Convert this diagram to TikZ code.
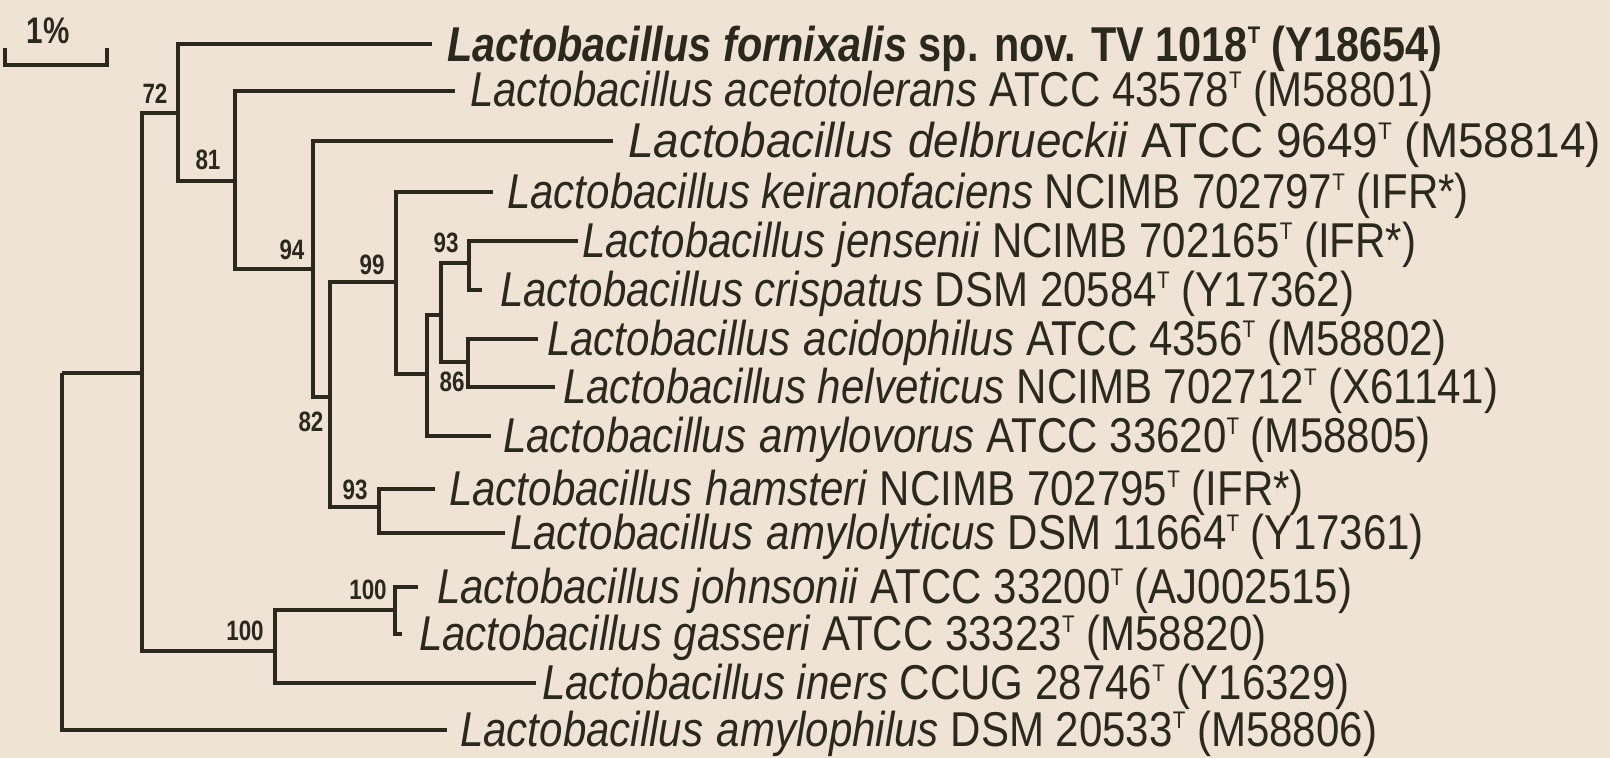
\documentclass[tikz,border=0pt]{standalone}
\usepackage{fontspec}
\usepackage{graphicx}
\setmainfont{Liberation Sans}[FakeStretch=0.86]
\newfontfamily\labfont{Liberation Sans}[FakeStretch=0.8]
\definecolor{bg}{HTML}{EFE3D5}
\definecolor{ink}{HTML}{2B281E}
\newcommand\Ts{\raisebox{18pt}{\fontsize{24}{24}\selectfont T}}
\newcommand\dsp{\hspace{0.28em}}
\newcommand\fitw[2]{\resizebox{#1}{\height}{#2}}
\begin{document}
\begin{tikzpicture}[x=1pt,y=-1pt,
  branch/.style={draw=ink, line width=4.3pt},
  sp/.style={anchor=base west, inner sep=0pt, text=ink, font=\fontsize{48.9}{50}\selectfont},
  boot/.style={inner sep=0pt, text=ink, font=\labfont\bfseries\fontsize{28}{28}\selectfont}]
\fill[bg] (0,0) rectangle (1610,758);
\useasboundingbox (0,0) rectangle (1610,758);
% scale bar
\coordinate (s1) at (5,48); \coordinate (s2) at (5,65);
\coordinate (s3) at (107,65); \coordinate (s4) at (107,48);
\draw[branch] (s1) -- (s2) -- (s3) -- (s4);
\node[boot, font=\labfont\bfseries\fontsize{37}{37}\selectfont] (pct) at (48,31) {1\%};
% internal nodes
\coordinate (root) at (62,373);
\coordinate (A) at (142,373);
\coordinate (n72) at (178,113);
\coordinate (n81) at (235,181);
\coordinate (n94) at (313,269);
\coordinate (n82) at (330,397);
\coordinate (n99) at (396,282);
\coordinate (nB) at (427,374);
\coordinate (nC) at (441,315);
\coordinate (n93a) at (469,263);
\coordinate (n86) at (468,362);
\coordinate (n93b) at (379,507);
\coordinate (n100o) at (275,651);
\coordinate (n100i) at (395,610);
% leaf ends
\coordinate (L1) at (432,44);
\coordinate (L2) at (455,91);
\coordinate (L3) at (613,141);
\coordinate (L4) at (493,192);
\coordinate (L5) at (578,241);
\coordinate (L6) at (482,290);
\coordinate (L7) at (538,339);
\coordinate (L8) at (555,387);
\coordinate (L9) at (491,436);
\coordinate (L10) at (435,489);
\coordinate (L11) at (505,533);
\coordinate (L12) at (418,587);
\coordinate (L13) at (402,634);
\coordinate (L14) at (536,683);
\coordinate (L15) at (447,730);
% branches
\draw[branch] (root) |- (A);
\draw[branch] (root) |- (L15);
\draw[branch] (A) |- (n72);
\draw[branch] (A) |- (n100o);
\draw[branch] (n72) |- (L1);
\draw[branch] (n72) |- (n81);
\draw[branch] (n81) |- (L2);
\draw[branch] (n81) |- (n94);
\draw[branch] (n94) |- (L3);
\draw[branch] (n94) |- (n82);
\draw[branch] (n82) |- (n99);
\draw[branch] (n82) |- (n93b);
\draw[branch] (n99) |- (L4);
\draw[branch] (n99) |- (nB);
\draw[branch] (nB) |- (nC);
\draw[branch] (nB) |- (L9);
\draw[branch] (nC) |- (n93a);
\draw[branch] (nC) |- (n86);
\draw[branch] (n93a) |- (L5);
\draw[branch] (n93a) |- (L6);
\draw[branch] (n86) |- (L7);
\draw[branch] (n86) |- (L8);
\draw[branch] (n93b) |- (L10);
\draw[branch] (n93b) |- (L11);
\draw[branch] (n100o) |- (n100i);
\draw[branch] (n100o) |- (L14);
\draw[branch] (n100i) |- (L12);
\draw[branch] (n100i) |- (L13);
% bootstrap values
\node[boot] (b72) at (155,94) {72};
\node[boot] (b81) at (208,160) {81};
\node[boot] (b94) at (292,250) {94};
\node[boot] (b99) at (372,265) {99};
\node[boot] (b93a) at (446,243) {93};
\node[boot] (b82) at (311,422) {82};
\node[boot] (b86) at (452,382) {86};
\node[boot] (b93b) at (355,490) {93};
\node[boot] (b100i) at (368,590) {100};
\node[boot] (b100o) at (245,631) {100};
% taxa
\node[sp] (t1) at (447,61) {\fitw{995pt}{\bfseries\textit{Lactobacillus fornixalis} sp. nov. TV 1018\Ts{} (Y18654)}};
\node[sp] (t2) at (470,106) {\textit{Lactobacillus acetotolerans} ATCC 43578\Ts{} (M58801)};
\node[sp] (t3) at (628,157) {\fitw{973pt}{\textit{Lactobacillus\dsp delbrueckii} ATCC 9649\Ts{} (M58814)}};
\node[sp] (t4) at (507,208) {\textit{Lactobacillus keiranofaciens} NCIMB 702797\Ts{} (IFR*)};
\node[sp] (t5) at (582,257) {\textit{Lactobacillus jensenii} NCIMB 702165\Ts{} (IFR*)};
\node[sp] (t6) at (500,306) {\textit{Lactobacillus crispatus} DSM 20584\Ts{} (Y17362)};
\node[sp] (t7) at (547,355) {\textit{Lactobacillus\dsp acidophilus} ATCC 4356\Ts{} (M58802)};
\node[sp] (t8) at (563,403) {\textit{Lactobacillus helveticus} NCIMB 702712\Ts{} (X61141)};
\node[sp] (t9) at (503,452) {\textit{Lactobacillus\dsp amylovorus} ATCC 33620\Ts{} (M58805)};
\node[sp] (t10) at (449,505) {\textit{Lactobacillus\dsp hamsteri} NCIMB 702795\Ts{} (IFR*)};
\node[sp] (t11) at (510,549) {\textit{Lactobacillus\dsp amylolyticus} DSM 11664\Ts{} (Y17361)};
\node[sp] (t12) at (437,603) {\textit{Lactobacillus johnsonii} ATCC 33200\Ts{} (AJ002515)};
\node[sp] (t13) at (419,650) {\textit{Lactobacillus gasseri} ATCC 33323\Ts{} (M58820)};
\node[sp] (t14) at (542,699) {\textit{Lactobacillus iners} CCUG 28746\Ts{} (Y16329)};
\node[sp] (t15) at (460,746) {\textit{Lactobacillus\dsp amylophilus} DSM 20533\Ts{} (M58806)};
\end{tikzpicture}
\end{document}
